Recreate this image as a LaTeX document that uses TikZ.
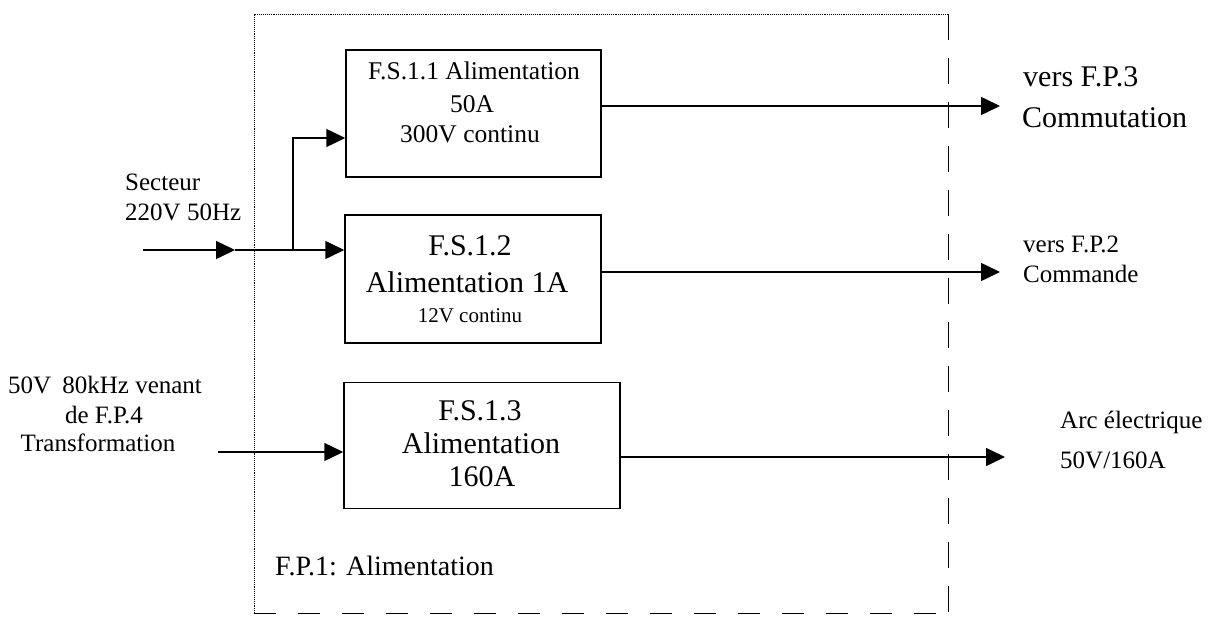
\documentclass[tikz,border=0pt]{standalone}
\usepackage{fontspec}
\setmainfont{Liberation Serif}
\usetikzlibrary{arrows.meta}
\begin{document}
\begin{tikzpicture}[x=1pt,y=-1pt,
  blk/.style={draw, line width=1.5pt, inner sep=0pt},
  wire/.style={line width=1.5pt},
  conn/.style={line width=1.5pt, -{Triangle[length=19pt,width=18pt]}},
  frameline/.style={line width=0.9pt},
  txt/.style={inner sep=0pt, anchor=base, font=\fontsize{#1}{#1}\selectfont},
  ltxt/.style={inner sep=0pt, anchor=base west, font=\fontsize{#1}{#1}\selectfont},
]
\useasboundingbox (0,0) rectangle (1222,620);

% frame F.P.1
\coordinate (fa) at (254,14);
\coordinate (fb) at (948,14);
\coordinate (fc) at (948,613);
\coordinate (fd) at (254,613);
\draw[frameline, densely dotted] (fd) -- (fa) -- (fb);
\draw[frameline, dash pattern=on 26pt off 18pt] (fb) -- (fc);
\draw[frameline, dash pattern=on 22pt off 22pt] (fd) -- (fc);

% blocks
\node[blk, minimum width=255pt, minimum height=127pt] (b1) at (473.5,113.5) {};
\node[blk, minimum width=256pt, minimum height=128pt] (b2) at (473,279) {};
\node[blk, minimum width=276pt, minimum height=126pt] (b3) at (482,445.5) {};

% block texts
\node[txt=25.5] (t11) at (474,80) {F.S.1.1 Alimentation};
\node[txt=25.5] (t12) at (472,113) {50A};
\node[txt=25.5] (t13) at (470,143) {300V continu};
\node[txt=30] (t21) at (470,255) {F.S.1.2};
\node[txt=30] (t22) at (467,292) {Alimentation 1A};
\node[txt=21] (t23) at (470,322) {12V continu};
\node[txt=30] (t31) at (480,420) {F.S.1.3};
\node[txt=30] (t32) at (481,453) {Alimentation};
\node[txt=30] (t33) at (482,486) {160A};
\node[ltxt=28] (fp1) at (275,575) {F.P.1: Alimentation};

% input labels
\node[ltxt=25] (sec1) at (125,191) {Secteur};
\node[ltxt=25] (sec2) at (125,221) {220V 50Hz};
\node[txt=25] (in1) at (105,393) {50V\hspace{0.45em}80kHz venant};
\node[txt=25] (in2) at (104,423) {de F.P.4};
\node[txt=25] (in3) at (98,451) {Transformation};

% output labels
\node[ltxt=30] (o11) at (1023,87) {vers F.P.3};
\node[ltxt=30] (o12) at (1022,128) {Commutation};
\node[ltxt=25] (o21) at (1023,252) {vers F.P.2};
\node[ltxt=25] (o22) at (1023,282) {Commande};
\node[ltxt=25] (o31) at (1060,428) {Arc électrique};
\node[ltxt=25] (o32) at (1060,468) {50V/160A};

% connectors
\coordinate (s0) at (143,250);
\coordinate (s1) at (235,250);
\coordinate (j) at (293,250);
\coordinate (j1) at (293,138);
\coordinate (e0) at (218,452);
\coordinate (q1) at (1000,106);
\coordinate (q2) at (1000,272);
\coordinate (q3) at (1005,457);

\draw[conn] (s0) -- (s1);
\draw[conn] (s1) -- (b2.west |- s1);
\draw[conn] (j) -- (j1) -- (b1.west |- j1);
\draw[conn] (e0) -- (b3.west |- e0);
\draw[conn] (b1.east |- q1) -- (q1);
\draw[conn] (b2.east |- q2) -- (q2);
\draw[conn] (b3.east |- q3) -- (q3);
\end{tikzpicture}
\end{document}
